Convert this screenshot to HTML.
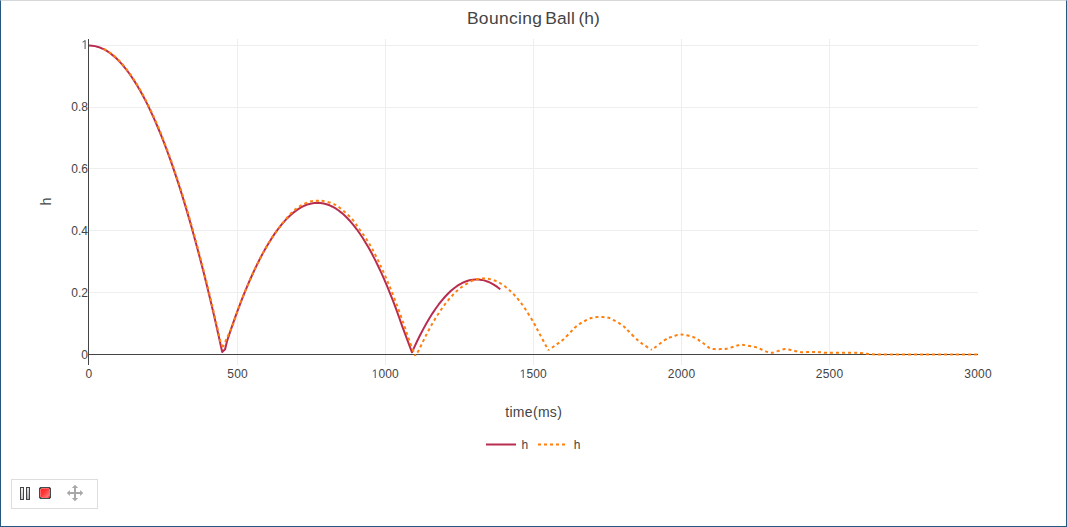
<!DOCTYPE html>
<html><head><meta charset="utf-8"><title>Bouncing Ball (h)</title>
<style>
html,body{margin:0;padding:0;background:#fff;}
body{width:1067px;height:527px;position:relative;overflow:hidden;font-family:"Liberation Sans",sans-serif;}
#frame{position:absolute;left:0;top:0;width:1065px;height:525px;border:1px solid #25577f;border-top-color:#d6d7d9;}
#tb{position:absolute;left:11px;top:479px;width:85px;height:28px;border:1px solid #dddddd;background:#fff;}
</style></head><body>
<div id="frame"></div>
<svg width="1067" height="527" viewBox="0 0 1067 527" style="position:absolute;left:0;top:0">
<rect x="237" y="39" width="1" height="326" fill="#eeeeee"/>
<rect x="385" y="39" width="1" height="326" fill="#eeeeee"/>
<rect x="533" y="39" width="1" height="326" fill="#eeeeee"/>
<rect x="681" y="39" width="1" height="326" fill="#eeeeee"/>
<rect x="829" y="39" width="1" height="326" fill="#eeeeee"/>
<rect x="89" y="45" width="889" height="1" fill="#eeeeee"/>
<rect x="89" y="107" width="889" height="1" fill="#eeeeee"/>
<rect x="89" y="168" width="889" height="1" fill="#eeeeee"/>
<rect x="89" y="230" width="889" height="1" fill="#eeeeee"/>
<rect x="89" y="292" width="889" height="1" fill="#eeeeee"/>
<rect x="88" y="354" width="890" height="1" fill="#444444"/>
<rect x="88" y="39" width="1" height="326" fill="#444444"/>
<path d="M89,45.5 L92.03,45.66 L95.05,46.13 L98.08,46.92 L101.11,48.03 L104.14,49.46 L107.16,51.2 L110.19,53.26 L113.22,55.63 L116.25,58.32 L119.27,61.33 L122.3,64.66 L125.33,68.3 L128.35,72.26 L131.38,76.53 L134.41,81.12 L137.44,86.03 L140.46,91.25 L143.49,96.79 L146.52,102.65 L149.55,108.83 L152.57,115.32 L155.6,122.12 L158.63,129.25 L161.65,136.69 L164.68,144.45 L167.71,152.52 L170.74,160.91 L173.76,169.62 L176.79,178.64 L179.82,187.98 L182.85,197.64 L185.87,207.61 L188.9,217.9 L191.93,228.51 L194.95,239.44 L197.98,250.68 L201.01,262.23 L204.04,274.11 L207.06,286.3 L210.09,298.8 L213.12,311.63 L216.15,324.77 L219.17,338.22 L222.2,352 L225.1,349.2 L227,341.22 L230.02,332.14 L233.03,323.37 L236.05,314.91 L239.07,306.76 L242.09,298.91 L245.1,291.38 L248.12,284.15 L251.14,277.23 L254.16,270.61 L257.17,264.31 L260.19,258.31 L263.21,252.62 L266.22,247.23 L269.24,242.16 L272.26,237.39 L275.28,232.93 L278.29,228.78 L281.31,224.93 L284.33,221.4 L287.34,218.17 L290.36,215.25 L293.38,212.63 L296.4,210.33 L299.41,208.33 L302.43,206.64 L305.45,205.25 L308.47,204.18 L311.48,203.41 L314.5,202.95 L317.52,202.8 L320.53,202.96 L323.55,203.43 L326.57,204.21 L329.59,205.31 L332.6,206.72 L335.62,208.45 L338.64,210.49 L341.66,212.84 L344.67,215.5 L347.69,218.48 L350.71,221.77 L353.72,225.37 L356.74,229.29 L359.76,233.52 L362.78,238.06 L365.79,242.91 L368.81,248.08 L371.83,253.57 L374.84,259.36 L377.86,265.47 L380.88,271.89 L383.9,278.63 L386.91,285.67 L389.93,293.04 L392.95,300.71 L395.97,308.7 L398.98,317 L402,325.61 L412,352.3 L414,347.84 L417.08,341.25 L420.16,335 L423.25,329.09 L426.33,323.5 L429.41,318.25 L432.49,313.33 L435.57,308.74 L438.66,304.49 L441.74,300.57 L444.82,296.98 L447.9,293.73 L450.99,290.81 L454.07,288.22 L457.15,285.96 L460.23,284.04 L463.31,282.45 L466.4,281.19 L469.48,280.26 L472.56,279.67 L475.64,279.41 L478.73,279.49 L481.81,279.89 L484.89,280.63 L487.97,281.71 L491.05,283.11 L494.14,284.85 L497.22,286.92 L500.3,289.32" fill="none" stroke="#b82c4f" stroke-width="2" stroke-linejoin="round"/>
<path d="M103.6,48.93 L105.62,49.99 L107.63,51.18 L109.65,52.52 L111.67,53.99 L113.69,55.61 L115.7,57.36 L117.72,59.26 L119.74,61.3 L121.76,63.47 L123.77,65.79 L125.79,68.25 L127.81,70.85 L129.82,73.59 L131.84,76.47 L133.86,79.49 L135.88,82.65 L137.89,85.96 L139.91,89.4 L141.93,92.98 L143.94,96.71 L145.96,100.57 L147.98,104.58 L150,108.72 L152.01,113.01 L154.03,117.44 L156.05,122.01 L158.07,126.71 L160.08,131.56 L162.1,136.55 L164.12,141.68 L166.13,146.95 L168.15,152.36 L170.17,157.92 L172.19,163.61 L174.2,169.44 L176.22,175.42 L178.24,181.53 L180.26,187.79 L182.27,194.18 L184.29,200.72 L186.31,207.39 L188.32,214.21 L190.34,221.17 L192.36,228.27 L194.38,235.51 L196.39,242.89 L198.41,250.41 L200.43,258.07 L202.44,265.87 L204.46,273.81 L206.48,281.89 L208.5,290.12 L210.51,298.48 L212.53,306.99 L214.55,315.63 L216.57,324.42 L218.58,333.34 L220.6,342.41 L222.9,347" fill="none" stroke="#ff7f0e" stroke-width="2" stroke-dasharray="3,3" stroke-dashoffset="0"/>
<path d="M222.9,347 C223.4,345.88 224.98,342.33 225.9,340.3 C226.82,338.27 227.18,337.52 228.4,334.8 C229.62,332.08 231.27,329.08 233.2,324 C235.13,318.92 237.2,311.67 240,304.31 C242.8,296.94 246.67,287.41 250,279.8 C253.33,272.2 256.67,265.15 260,258.68 C263.33,252.2 266.67,246.28 270,240.93 C273.33,235.58 276.47,231.2 280,226.57 C283.53,221.93 287.78,216.56 291.2,213.1 C294.62,209.64 297.18,207.77 300.5,205.8 C303.82,203.83 308.22,202.15 311.1,201.3 C313.98,200.45 315.8,200.75 317.8,200.7 C319.8,200.65 320.33,200.4 323.1,201 C325.87,201.6 330.87,202.53 334.4,204.3 C337.93,206.07 341.2,208.95 344.3,211.6 C347.4,214.25 350.45,217.22 353,220.2 C355.55,223.18 357.4,226.4 359.6,229.5 C361.8,232.6 364.1,235.58 366.2,238.8 C368.3,242.02 369.9,244.52 372.2,248.8 C374.5,253.08 377.37,258.84 380,264.46 C382.63,270.08 385.33,276.16 388,282.53 C390.67,288.9 393.33,295.61 396,302.68 C398.67,309.74 401.67,318.29 404,324.92 C406.33,331.55 408.12,337.32 410,342.46 C411.88,347.61 414.42,353.58 415.3,355.8" fill="none" stroke="#ff7f0e" stroke-width="2" stroke-dasharray="3,3" stroke-dashoffset="0.54"/>
<path d="M415.3,355.8 C415.92,354.82 417.55,352.65 419,349.9 C420.45,347.16 422.17,343.03 424,339.34 C425.83,335.65 427.83,331.7 430,327.78 C432.17,323.86 434.57,319.67 437,315.83 C439.43,311.99 441.95,308.23 444.6,304.73 C447.25,301.24 450.12,297.77 452.9,294.85 C455.68,291.92 458.13,289.52 461.3,287.21 C464.47,284.9 469.18,282.31 471.9,280.97 C474.62,279.64 475.58,279.6 477.6,279.19 C479.62,278.78 482.05,278.53 484,278.5 C485.95,278.47 487.47,278.64 489.3,279 C491.13,279.36 493.17,279.96 495,280.67 C496.83,281.37 498.52,282.21 500.3,283.26 C502.08,284.3 504.12,285.74 505.7,286.93 C507.28,288.12 508.42,289.13 509.8,290.41 C511.18,291.7 512.53,293.02 514,294.61 C515.47,296.2 516.77,297.6 518.6,299.93 C520.43,302.26 522.52,304.85 525,308.59 C527.48,312.33 531,318.02 533.5,322.36 C536,326.7 537.53,329.99 540,334.63 C542.47,339.27 546.92,347.61 548.3,350.2" fill="none" stroke="#ff7f0e" stroke-width="2" stroke-dasharray="3,3" stroke-dashoffset="2.08"/>
<path d="M548.3,350.2 C549.5,349.37 553.05,346.93 555.5,345.2 C557.95,343.47 560.35,342.13 563,339.8 C565.65,337.47 569.28,333.35 571.4,331.2 C573.52,329.05 574.18,328.22 575.7,326.9 C577.22,325.58 578.83,324.37 580.5,323.3 C582.17,322.23 583.92,321.38 585.7,320.5 C587.48,319.62 589.33,318.57 591.2,318 C593.07,317.43 594.95,317.25 596.9,317.1 C598.85,316.95 600.93,316.98 602.9,317.1 C604.87,317.22 606.83,317.25 608.7,317.8 C610.57,318.35 612.32,319.48 614.1,320.4 C615.88,321.32 617.68,322.22 619.4,323.3 C621.12,324.38 622.87,325.58 624.4,326.9 C625.93,328.22 626.32,328.92 628.6,331.2 C630.88,333.48 635.37,338.2 638.1,340.6 C640.83,343 642.7,344.05 645,345.6 C647.3,347.15 650.75,349.18 651.9,349.9" fill="none" stroke="#ff7f0e" stroke-width="2" stroke-dasharray="3,3" stroke-dashoffset="1.64"/>
<path d="M651.9,349.9 C654.1,348.22 661.78,341.97 665.1,339.8 C668.42,337.63 669,337.77 671.8,336.9 C674.6,336.03 678.07,334.48 681.9,334.6 C685.73,334.72 691.83,336.57 694.8,337.6 C697.77,338.63 698.07,339.7 699.7,340.8 C701.33,341.9 702.97,342.98 704.6,344.2 C706.23,345.42 707.87,347.28 709.5,348.1 C711.13,348.92 712.52,348.93 714.4,349.1 C716.28,349.27 718.8,349.15 720.8,349.1 C722.8,349.05 724.42,349.15 726.4,348.8 C728.38,348.45 730.72,347.58 732.7,347 C734.68,346.42 736.53,345.65 738.3,345.3 C740.07,344.95 741.42,344.78 743.3,344.9 C745.18,345.02 747.5,345.63 749.6,346 C751.7,346.37 753.92,346.52 755.9,347.1 C757.88,347.68 759.62,348.7 761.5,349.5 C763.38,350.3 765.43,351.35 767.2,351.9 C768.97,352.45 770.23,352.97 772.1,352.8 C773.97,352.63 776.3,351.52 778.4,350.9 C780.5,350.28 782.7,349.27 784.7,349.1 C786.7,348.93 788.52,349.55 790.4,349.9 C792.28,350.25 794.13,350.8 796,351.2 C797.87,351.6 799.73,352.15 801.6,352.3 C803.47,352.45 805.2,352.17 807.2,352.1 C809.2,352.03 811.6,351.88 813.6,351.9 C815.6,351.92 817.1,352.05 819.2,352.2 C821.3,352.35 823.57,352.69 826.2,352.8 C828.83,352.91 831.87,352.84 835,352.85 C838.13,352.86 841.67,352.85 845,352.85 C848.33,352.85 852.33,352.83 855,352.85 C857.67,352.88 859.17,352.86 861,353 C862.83,353.14 864.5,353.5 866,353.7 C867.5,353.9 868.5,354.07 870,354.2 C871.5,354.32 871.67,354.4 875,354.45 C878.33,354.5 882.5,354.49 890,354.5 C897.5,354.51 910,354.5 920,354.5 C930,354.5 940.33,354.5 950,354.5 C959.67,354.5 973.33,354.5 978,354.5" fill="none" stroke="#ff7f0e" stroke-width="2" stroke-dasharray="3,3" stroke-dashoffset="2.93"/>
<path d="M486,444.5 H516" stroke="#b82c4f" stroke-width="2" fill="none"/>
<path d="M538,444.5 H568" stroke="#ff7f0e" stroke-width="2" stroke-dasharray="3,3" fill="none"/>
<text y="24" font-size="17.4" font-family="Liberation Sans, sans-serif" fill="#444444"><tspan x="466.9" letter-spacing="0.36">Bouncing</tspan><tspan x="545.3" letter-spacing="0.15">Ball</tspan><tspan x="578.5">(h)</tspan></text>
<text x="88" y="110.7" font-size="12" text-anchor="end" font-family="Liberation Sans, sans-serif" fill="#444444">0.8</text>
<text x="88" y="172.7" font-size="12" text-anchor="end" font-family="Liberation Sans, sans-serif" fill="#444444">0.6</text>
<text x="88" y="234.7" font-size="12" text-anchor="end" font-family="Liberation Sans, sans-serif" fill="#444444">0.4</text>
<text x="88" y="296.7" font-size="12" text-anchor="end" font-family="Liberation Sans, sans-serif" fill="#444444">0.2</text>
<text x="88" y="358.7" font-size="12" text-anchor="end" font-family="Liberation Sans, sans-serif" fill="#444444">0</text>
<path d="M711 0H549V1049Q549 1180 557 1297Q536 1276 510 1253T272 1058L184 1172L571 1471H711Z" fill="#444444" transform="translate(81.4,48.9) scale(0.005859,-0.005859)"/>
<text x="89" y="378" font-size="12" letter-spacing="0.2" text-anchor="middle" font-family="Liberation Sans, sans-serif" fill="#444444">0</text>
<text x="237.6" y="378" font-size="12" letter-spacing="0.2" text-anchor="middle" font-family="Liberation Sans, sans-serif" fill="#444444">500</text>
<text x="681.6" y="378" font-size="12" letter-spacing="0.2" text-anchor="middle" font-family="Liberation Sans, sans-serif" fill="#444444">2000</text>
<text x="829.6" y="378" font-size="12" letter-spacing="0.2" text-anchor="middle" font-family="Liberation Sans, sans-serif" fill="#444444">2500</text>
<text x="978.1" y="378" font-size="12" letter-spacing="0.2" text-anchor="middle" font-family="Liberation Sans, sans-serif" fill="#444444">3000</text>
<path d="M711 0H549V1049Q549 1180 557 1297Q536 1276 510 1253T272 1058L184 1172L571 1471H711Z" fill="#444444" transform="translate(371.5,378) scale(0.005859,-0.005859)"/>
<text x="378.4" y="378" font-size="12" letter-spacing="0.15" font-family="Liberation Sans, sans-serif" fill="#444444">000</text>
<path d="M711 0H549V1049Q549 1180 557 1297Q536 1276 510 1253T272 1058L184 1172L571 1471H711Z" fill="#444444" transform="translate(519.5,378) scale(0.005859,-0.005859)"/>
<text x="526.4" y="378" font-size="12" letter-spacing="0.15" font-family="Liberation Sans, sans-serif" fill="#444444">500</text>
<text x="533.7" y="417" font-size="14" letter-spacing="0.3" text-anchor="middle" font-family="Liberation Sans, sans-serif" fill="#444444">time(ms)</text>
<text transform="translate(51,201.5) rotate(-90)" font-size="14.5" text-anchor="middle" font-family="Liberation Sans, sans-serif" fill="#444444">h</text>
<text x="521.5" y="448.6" font-size="12" font-family="Liberation Sans, sans-serif" fill="#444444">h</text>
<text x="573.8" y="448.6" font-size="12" font-family="Liberation Sans, sans-serif" fill="#444444">h</text>
</svg>
<div id="tb"></div>
<svg width="100" height="40" viewBox="0 0 100 40" style="position:absolute;left:8px;top:474px">
<defs>
<linearGradient id="pg" x1="0" y1="0" x2="0" y2="1"><stop offset="0" stop-color="#f4f4f8"/><stop offset="1" stop-color="#c4c4cc"/></linearGradient>
<linearGradient id="pg2" x1="0" y1="0" x2="0" y2="1"><stop offset="0" stop-color="#e4e4ea"/><stop offset="1" stop-color="#aaaab2"/></linearGradient>
<linearGradient id="rg" x1="0" y1="0" x2="1" y2="1"><stop offset="0" stop-color="#ff2626"/><stop offset="0.45" stop-color="#ff3a3a"/><stop offset="1" stop-color="#ff8686"/></linearGradient>
</defs>
<rect x="12.5" y="13.5" width="3" height="12" fill="url(#pg)" stroke="#444" stroke-width="1"/>
<rect x="18.5" y="13.5" width="3" height="12" fill="url(#pg2)" stroke="#444" stroke-width="1"/>
<rect x="32" y="14" width="10" height="10" fill="#ff6868"/>
<path d="M32,13h10v1h-10z M32,24h10v1h-10z M31,14h1v10h-1z M42,14h1v10h-1z M32,14h1v1h-1z M41,14h1v1h-1z M32,23h1v1h-1z M41,23h1v1h-1z" fill="#3d4d50"/>
<path d="M31,13h1v1h-1z M42,13h1v1h-1z M31,24h1v1h-1z M42,24h1v1h-1z" fill="#3d4d50" opacity="0.25"/>
<rect x="33" y="15" width="8" height="8" fill="url(#rg)"/>
<path d="M41.6,21.6 V23.6 H39.6 Z" fill="#ff1010"/>
<g fill="#a8a8a8" transform="translate(59,11)">
<path d="M8,-0.2 L11.1,2.9 H9 V7 H13.1 V4.9 L16.2,8 L13.1,11.1 V9 H9 V13.1 H11.1 L8,16.2 L4.9,13.1 H7 V9 H2.9 V11.1 L-0.2,8 L2.9,4.9 V7 H7 V2.9 H4.9 Z"/>
</g>
</svg>
</body></html>
